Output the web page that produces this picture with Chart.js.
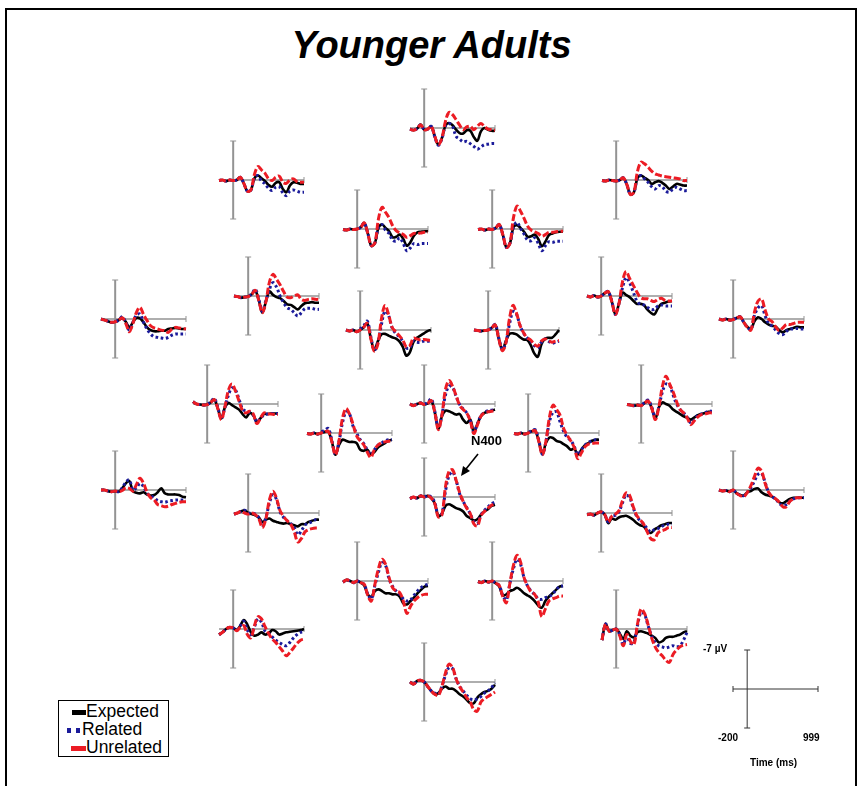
<!DOCTYPE html>
<html>
<head>
<meta charset="utf-8">
<script src="https://cdn.jsdelivr.net/npm/chart.js@4.4.1/dist/chart.umd.min.js"></script>
<style>
  body{margin:0;width:863px;height:786px;background:#fff;position:relative;overflow:hidden;font-family:"Liberation Sans",Arial,sans-serif;}
  .frame{position:absolute;left:5px;top:8px;width:852px;height:820px;border:2px solid #000;box-sizing:border-box;}
  .title{position:absolute;left:0;top:24px;width:863px;text-align:center;font:italic bold 38px "Liberation Sans",Arial,sans-serif;color:#000;}
  .panel{position:absolute;}
  .legend{position:absolute;left:58px;top:700px;width:111px;height:57px;border:1px solid #000;box-sizing:border-box;background:#fff;}
  .legend .txt{position:absolute;font-size:17.5px;line-height:18px;color:#000;}
  .legend .mk{position:absolute;height:5px;}
  .lbl{position:absolute;font:bold 10px "Liberation Sans",Arial,sans-serif;color:#000;white-space:nowrap;}
  .n400{position:absolute;font:bold 13px "Liberation Sans",Arial,sans-serif;color:#000;}
  svg.ann{position:absolute;left:0;top:0;}
</style>
</head>
<body>
<div class="frame"></div>
<div class="title">Younger Adults</div>
<div id="panels"></div>

<div class="legend">
  <span class="mk" style="left:13px;top:9px;width:14px;background:#000"></span>
  <span class="txt" style="left:27px;top:1px">Expected</span>
  <span class="mk" style="left:8px;top:27px;width:4px;background:#1b1b9a"></span>
  <span class="mk" style="left:17px;top:27px;width:4px;background:#1b1b9a"></span>
  <span class="txt" style="left:23px;top:19px">Related</span>
  <span class="mk" style="left:12px;top:45px;width:15px;background:#ec1c24"></span>
  <span class="txt" style="left:27px;top:37px">Unrelated</span>
</div>

<div class="lbl" style="left:703px;top:643px">-7 µV</div>
<div class="lbl" style="left:718px;top:732px">-200</div>
<div class="lbl" style="left:803px;top:732px">999</div>
<div class="lbl" style="left:750px;top:757px">Time (ms)</div>

<div class="n400" style="left:471px;top:433px">N400</div>
<svg class="ann" width="863" height="786">
  <line x1="478" y1="454" x2="466" y2="469" stroke="#000" stroke-width="1.6"/>
  <polygon points="461,476 463,466 470,471" fill="#000"/>
</svg>

<script>
// time points (ms)
const times = [-200,-150,-100,-50,0,50,100,150,200,250,300,350,400,450,500,550,600,650,700,750,800,850,900,950,999];

// amplitudes in µV (negative plotted up)
const expected01 = [0.2,0.4,0.1,-0.6,0.3,0.2,-0.3,1.5,3.0,1.8,-0.4,-0.9,-0.5,0.3,0.9,1.0,0.4,0.5,1.6,2.3,0.6,0,0.3,0.5,0.5];
const related01 = [0.2,0.4,0.1,-0.6,0.3,0.2,-0.3,1.6,3.1,1.9,-0.4,-0.8,-0.3,1.5,2.0,2.5,2.4,2.8,3.3,3.8,3.4,3.0,2.9,2.8,2.8];
const unrelated01 = [0.2,0.4,0.1,-0.6,0.3,0.2,-0.3,1.5,3.0,1.8,-1.2,-2.8,-2.4,-1.5,-0.5,0.3,-0.2,-0.3,0.3,-0.3,-0.8,-0.3,0.2,0.3,0.4];

const expected02 = [0.1,0,0.2,0,0.1,0,-0.5,0.6,2.0,1.8,-0.3,-0.8,-0.3,0.2,0.9,1.2,0.5,0.4,1.6,2.2,1.0,0.4,0.5,0.7,0.7];
const related02 = [0.1,0,0.2,0,0.1,0,-0.5,0.6,2.0,1.8,-0.3,-0.8,0.2,0.7,1.5,1.9,1.3,1.2,2.3,2.8,2.0,1.8,2.0,2.2,2.2];
const unrelated02 = [0.1,0,0.2,0,0.1,0,-0.5,0.6,2.0,1.8,-1.0,-2.4,-1.8,-1.2,-0.2,0.1,-0.5,-0.7,0.4,0.6,0,-0.2,0.3,0.4,0.4];

const expected03 = [0.1,0.2,0,0.1,0.2,0,-0.4,0.8,2.6,2.2,-0.3,-0.8,-0.4,0,0.7,0.4,0.2,0.5,1.0,1.6,1.2,0.7,0.8,1.0,1.0];
const related03 = [0.1,0.2,0,0.1,0.2,0,-0.4,0.8,2.6,2.2,-0.3,-0.8,-0.2,0.4,1.2,1.6,1.0,1.2,2.0,2.2,1.6,1.3,1.6,1.9,1.9];
const unrelated03 = [0.1,0.2,0,0.1,0.2,0,-0.4,0.8,2.6,2.2,-1.5,-3.2,-2.9,-2.3,-1.6,-1.1,-0.9,-0.7,-0.6,-0.5,-0.4,-0.3,-0.2,0.1,0.1];

const expected04 = [0.1,0.2,0,0.1,0,-0.3,-1.1,0.8,3.0,2.5,-0.2,-0.8,-0.2,0.4,1.5,1.4,1.0,1.8,3.0,2.4,1.2,0.6,0.5,0.4,0.4];
const related04 = [0.1,0.2,0,0.1,0,-0.3,-1.1,0.8,3.0,2.5,-0.3,-0.8,0.2,0.8,2.0,2.2,1.6,2.6,3.9,3.4,2.6,2.8,2.6,2.6,2.6];
const unrelated04 = [0.1,0.2,0,0.1,0,-0.3,-1.1,0.8,3.0,2.5,-1.8,-3.9,-3.0,-2.0,-0.6,0.3,0.7,1.0,1.5,1.2,0.8,0.8,0.7,0.6,0.6];

const expected05 = [0.1,0,0.2,0,0.1,-0.2,-0.8,1.0,3.3,2.6,-0.3,-0.7,-0.2,0.5,1.4,1.3,1.0,1.8,3.1,2.3,1.1,0.8,0.6,0.5,0.5];
const related05 = [0.1,0,0.2,0,0.1,-0.2,-0.8,1.0,3.3,2.6,-0.4,-1.2,-0.1,0.9,2.0,2.1,1.6,2.6,3.9,3.0,2.3,2.4,2.2,2.2,2.2];
const unrelated05 = [0.1,0,0.2,0,0.1,-0.2,-0.8,1.0,3.3,2.6,-2.0,-4.1,-3.2,-1.9,-0.5,0.2,0.5,0.8,1.3,1.0,0.6,0.6,0.5,0.4,0.4];

const expected06 = [0,0.2,0.4,0.6,0.5,0.2,-0.2,0.5,1.5,0.6,-0.2,-0.1,0.6,1.5,2.0,2.2,2.2,2.1,2.1,1.8,1.7,1.6,1.7,1.8,1.8];
const related06 = [0,0.2,0.4,0.6,0.5,0.2,-0.4,0.6,2.0,0.6,-0.7,-0.9,0.6,1.8,2.7,3.2,3.3,3.4,3.5,3.3,2.9,2.7,2.7,2.7,2.7];
const unrelated06 = [0,0.2,0.4,0.6,0.5,0.2,-0.2,0.8,2.3,0.8,-1.2,-2.1,-0.8,0.3,1.2,1.6,1.8,2.0,2.1,2.4,1.8,1.5,1.6,1.7,1.8];

const expected07 = [0,0.1,0.3,0.2,0.1,-0.3,-1.0,0.8,3.0,1.0,-0.8,-0.2,0.2,0.4,0.9,1.5,1.6,2.0,2.4,1.8,1.3,1.2,1.1,1.2,1.2];
const related07 = [0,0.1,0.3,0.2,0.1,-0.4,-1.2,0.6,2.8,0.8,-1.2,-2.4,-1.6,0,1.2,2.1,2.4,3.0,3.6,3.0,2.3,2.2,2.2,2.4,2.4];
const unrelated07 = [0,0.1,0.3,0.2,0.1,-0.3,-1.0,0.8,3.0,1.0,-2.5,-3.9,-3.0,-2.0,-0.8,0.2,0.3,0,-0.2,0.6,0.8,0.6,0.5,0.6,0.6];

const expected08 = [0,0.2,0,0.3,0,-0.5,-1.2,1.5,3.6,2.0,0.8,0.7,1.0,1.3,1.5,2.0,3.0,4.6,4.0,2.2,1.4,1.0,0.6,0.2,0];
const related08 = [0,0.2,0,0.3,-0.2,-0.8,-1.6,1.2,3.6,2.2,-1.0,-3.4,-2.6,-0.4,0.6,1.2,2.0,3.2,3.2,2.0,2.2,2.2,2.0,2.0,2.0];
const unrelated08 = [0,0.2,0,0.3,0,-0.5,-1.2,1.5,3.8,2.5,-2.0,-4.4,-2.8,-0.5,0.3,1.0,1.8,3.0,2.8,1.5,1.6,1.8,1.7,1.8,1.9];

const expected09 = [0,0.1,0.2,0.1,0,-0.4,-0.9,1.6,3.5,2.0,0.7,0.6,0.8,1.3,1.7,1.8,2.7,4.2,4.8,2.6,1.6,1.4,1.4,0.8,0];
const related09 = [0,0.1,0.2,0.1,0,-0.4,-1.0,1.4,3.5,2.2,-1.0,-3.3,-2.8,-0.8,0.6,1.4,2.0,2.8,3.2,2.2,1.6,2.0,2.4,2.2,2.0];
const unrelated09 = [0,0.1,0.2,0.1,0,-0.4,-0.9,1.6,3.7,2.3,-2.0,-4.4,-3.0,-0.8,0.5,1.4,1.8,2.6,2.9,2.0,1.6,1.9,2.2,2.0,1.9];

const expected10 = [0,0.2,-0.1,0.2,0,-0.5,-0.8,1.0,3.3,1.4,-0.6,-0.2,0.2,0.8,1.4,1.4,1.6,2.4,3.0,3.3,2.2,1.4,1.2,1.0,0.9];
const related10 = [0,0.2,-0.1,0.2,0,-0.5,-0.8,1.0,3.3,1.4,-1.4,-3.3,-2.4,-0.8,0.8,1.5,1.6,2.0,2.4,2.4,1.8,1.6,1.8,1.8,1.8];
const unrelated10 = [0,0.2,-0.1,0.2,0,-0.5,-0.8,1.0,3.3,1.4,-2.5,-4.4,-3.2,-2.0,-0.8,0.2,0.5,0.5,0.8,1.0,0.6,0.4,0.8,0.9,0.9];

const expected11 = [0,0.2,0,0.2,0.1,-0.2,-0.4,0.6,1.4,1.8,0.4,-0.3,0,0.6,1.0,1.2,1.4,2.0,2.4,2.0,1.8,1.6,1.4,1.5,1.5];
const related11 = [0,0.2,0,0.2,0.1,-0.2,-0.4,0.6,1.5,1.9,-0.6,-2.0,-2.4,-0.6,0.8,1.3,2.0,2.6,2.8,2.2,1.8,1.8,1.7,1.8,1.8];
const unrelated11 = [0,0.2,0,0.2,0.1,-0.2,-0.4,0.6,1.5,2.0,-1.2,-3.2,-3.6,-1.6,0,0.5,1.4,2.1,1.6,1.0,1.0,0.8,0.6,0.6,0.6];

const expected12 = [-0.4,0,0.1,0.2,0.1,-0.3,-0.8,0.8,2.6,0.6,-0.2,0.2,0.6,1.0,1.8,2.4,1.6,2.0,3.2,2.6,1.8,1.8,1.7,1.7,1.7];
const related12 = [-0.4,0,0.1,0.2,0.1,-0.4,-1.0,0.6,2.6,0.6,-1.6,-2.9,-2.5,-0.8,0.9,1.3,1.5,2.0,3.2,2.6,2.0,1.8,1.7,1.7,1.7];
const unrelated12 = [-0.4,0,0.1,0.2,0.1,-0.3,-0.8,0.8,2.8,0.5,-2.5,-3.6,-2.3,-0.5,1.2,1.6,1.3,1.8,3.5,2.6,1.6,1.8,1.8,1.9,1.9];

const expected13 = [0.1,0.2,0,0.2,0,-0.2,-0.3,1.5,3.9,2.2,1.2,1.4,1.6,1.6,1.8,3.0,3.2,3.0,3.8,3.4,2.6,2.2,1.8,1.4,1.2];
const related13 = [0.1,0.2,0,0.2,-0.2,-0.5,-0.8,1.3,3.8,1.6,-1.8,-3.8,-3.4,-1.2,0,1.2,1.9,3.0,3.9,3.0,2.2,1.8,1.4,1.2,1.2];
const unrelated13 = [0.1,0.2,0,0.2,0,-0.2,-0.3,1.5,3.9,1.5,-2.6,-4.4,-3.4,-1.5,0.5,1.4,2.1,3.4,4.4,3.0,2.2,1.8,1.6,1.5,1.5];

const expected14 = [0,0.3,0,-0.2,0.1,-0.1,-0.6,1.5,4.4,2.2,1.2,1.3,1.6,1.9,1.8,2.8,3.4,2.8,5.0,3.6,2.2,1.6,1.4,1.2,1.0];
const related14 = [0,0.3,0,-0.2,0,-0.3,-0.9,1.3,4.4,2.0,-1.6,-3.2,-3.0,-1.4,0.1,0.9,1.6,3.0,5.0,3.6,2.1,1.5,1.2,1.1,1.0];
const unrelated14 = [0,0.3,0,-0.2,0.1,-0.1,-0.6,1.5,4.6,2.0,-2.6,-4.2,-3.2,-1.5,0.2,1.0,1.6,3.0,5.3,3.8,2.2,1.6,1.4,1.3,1.2];

const expected15 = [0.1,0.2,0,0.2,0,-0.3,-0.4,1.5,3.8,1.8,0.8,0.9,1.4,1.6,2.0,2.4,3.0,2.8,3.9,3.0,2.2,1.8,1.4,1.2,1.2];
const related15 = [0.1,0.2,0,0.2,-0.1,-0.4,-0.6,1.3,3.8,1.6,-2.0,-3.7,-3.8,-2.0,-0.3,0.8,1.3,2.4,3.9,3.0,2.2,1.7,1.4,1.2,1.2];
const unrelated15 = [0.1,0.2,0,0.2,0,-0.3,-0.4,1.5,3.9,1.5,-2.8,-5.0,-4.2,-3.2,-0.8,0.4,1.4,2.6,4.6,3.6,2.5,2.0,1.9,1.8,1.8];

const expected16 = [0.1,0.2,0.3,0.2,0.3,-0.2,-0.5,0.8,2.6,0.6,-0.3,0,0.3,1.0,1.4,1.8,2.2,2.5,2.8,2.4,2.0,1.8,1.6,1.4,1.4];
const related16 = [0.1,0.2,0.3,0.2,0.2,-0.3,-0.7,0.6,2.6,0.5,-2.2,-3.6,-3.4,-1.6,0,1.0,1.6,2.4,3.4,2.8,2.0,1.8,1.6,1.3,1.3];
const unrelated16 = [0.1,0.2,0.3,0.2,0.3,-0.2,-0.5,0.8,2.8,0.5,-3.2,-5.0,-3.6,-2.2,-0.4,1.0,1.6,2.5,3.7,3.0,2.3,1.9,1.8,1.6,1.6];

const expected17 = [0,0,0.2,0.3,0.2,0.3,-0.3,-1.2,-1.6,0.2,0.5,0.6,0.4,0.8,1.0,0.9,0.4,-0.3,0.6,0.8,0.8,0.8,0.9,1.2,1.3];
const related17 = [0,0,0.2,0.3,0.2,0.3,-0.4,-1.4,-1.8,0,-0.4,-1.2,-0.6,0.6,1.0,1.4,1.9,2.1,2.2,2.0,1.9,1.8,1.8,1.8,1.8];
const unrelated17 = [0,0,0.2,0.3,0.2,0.3,0.1,-0.4,-0.3,0.2,-1.0,-2.1,-1.2,0.4,1.4,1.8,2.6,2.8,3.0,2.9,2.6,2.4,2.2,2.1,2.1];

const expected18 = [0.3,0,0.2,-0.2,0,-0.2,0.2,1.2,3.4,3.0,1.6,1.3,1.6,2.0,2.2,2.6,3.4,3.8,4.2,4.0,3.2,2.6,2.2,1.6,1.4];
const related18 = [0.3,0,0.2,-0.2,0,-0.3,0,1.0,3.4,3.0,-1.0,-3.8,-4.5,-3.0,-0.6,0.8,1.9,3.0,4.4,4.8,3.2,2.4,1.8,1.2,0.9];
const unrelated18 = [0.3,0,0.2,-0.2,0,-0.2,0.2,1.2,3.6,3.2,-1.8,-4.6,-4.9,-3.0,-0.8,0.8,2.0,3.0,4.8,5.2,3.4,2.6,2.0,1.5,1.2];

const expected19 = [0.2,0,-0.3,-0.5,0,0.2,0.4,0.8,1.6,1.2,1.0,1.4,1.6,1.8,1.9,1.8,2.0,2.2,2.4,2.0,2.0,1.6,1.4,1.2,1.2];
const related19 = [0.2,0,-0.3,-0.5,0,0,0.2,0.8,2.2,0.8,-1.8,-3.3,-2.4,-0.2,0.8,1.4,1.9,2.6,3.9,3.2,2.2,1.8,1.6,1.2,1.2];
const unrelated19 = [0.2,0,-0.3,0,0.2,0,0.3,1.0,2.6,1.0,-2.4,-3.9,-2.6,-0.4,0.6,1.4,2.0,3.4,5.2,4.6,3.4,3.0,2.8,2.7,2.7];

const expected20 = [0.3,0.2,0.4,0,-0.2,0.3,1.8,1.0,1.2,0.8,0.6,0.5,0.8,1.2,1.8,2.2,2.4,3.2,3.6,3.0,2.6,2.2,2.0,1.8,1.8];
const related20 = [0.3,0.2,0.4,0,-0.2,0.3,1.6,0.6,0.4,-0.2,-1.8,-3.2,-2.8,-1.0,0.6,1.4,2.0,2.8,3.4,3.0,2.8,2.4,2.2,2.0,2.0];
const unrelated20 = [0.3,0.2,0.4,0,-0.2,0.3,1.6,0.6,0.2,-0.4,-2.2,-3.6,-3.2,-1.2,0.4,1.2,2.0,3.4,4.6,4.8,3.6,3.2,3.0,2.6,2.6];

const expected21 = [0,0.2,0.1,0.3,0,0.6,0.9,1.0,0.4,0.2,-0.2,-0.3,0.4,0.8,1.0,1.2,1.6,2.2,2.4,2.0,1.6,1.4,1.4,1.4,1.4];
const related21 = [0,0.2,0.1,0.3,0,0.6,0.9,1.0,0.4,-0.4,-1.6,-2.8,-3.0,-1.4,0.4,1.2,1.6,2.4,2.8,2.6,2.0,1.6,1.4,1.4,1.4];
const unrelated21 = [0,0.2,0.1,0.3,0,0.6,1.0,1.2,0.4,-0.8,-2.4,-3.9,-3.4,-1.2,0.4,1.2,1.6,2.2,3.0,3.0,2.0,1.6,1.4,1.4,1.4];

const expected22 = [0.2,-0.2,0,0.3,0,0.3,0.8,2.4,2.8,1.8,1.5,1.8,2.2,2.2,2.4,2.4,2.8,4.0,4.2,3.6,3.0,2.2,1.6,1.0,0.9];
const related22 = [0.2,-0.2,0,0.3,0,0.3,0.6,2.4,3.2,0.8,-1.6,-3.3,-2.8,-0.4,1.0,1.8,2.4,3.2,3.6,3.4,2.6,1.8,1.2,0.8,0.6];
const unrelated22 = [0.2,-0.2,0,0.3,0,0.3,0.6,2.6,3.6,0.6,-2.2,-3.9,-3.0,-0.6,1.2,1.8,2.1,3.6,5.8,4.6,3.6,3.0,2.6,2.4,2.4];

const expected23 = [0.1,0.3,0,0.2,0,0.4,1.0,2.6,2.4,1.8,1.6,1.2,1.6,2.2,2.6,3.0,3.6,4.4,4.8,3.6,2.8,2.2,1.6,1.0,0.9];
const related23 = [0.1,0.3,0,0.2,0,0.4,0.8,2.6,3.4,0.4,-2.2,-3.9,-3.0,-0.6,0.9,1.8,2.4,3.2,3.3,3.0,2.8,2.4,1.6,1.0,0.9];
const unrelated23 = [0.1,0.3,0,0.2,0,0.4,0.8,2.8,3.9,0.4,-2.8,-4.6,-3.4,-0.6,0.9,2.0,2.4,3.8,6.4,5.0,3.6,3.2,3.0,2.7,2.7];

const expected24 = [1.0,0.6,0,-0.3,-0.2,0.2,-0.6,-1.6,-0.8,0.6,1.2,1.0,0.6,1.0,0.8,0.2,0.4,1.0,0.8,0.6,0.5,0.4,0.3,0.2,0];
const related24 = [1.0,0.6,0,-0.3,-0.2,0.2,-0.6,-1.4,0.2,1.0,-0.4,-1.8,-1.2,0.4,0.8,1.4,2.0,2.4,2.8,3.0,2.4,1.6,1.0,0.6,0.5];
const unrelated24 = [1.0,0.6,0,-0.3,-0.2,0.3,-0.3,-0.6,1.0,1.6,-0.6,-2.2,-1.8,-0.4,0.8,1.8,2.4,3.2,4.0,4.8,4.2,3.4,2.6,2.0,1.8];

const expected25 = [2.0,-0.9,0.4,0.2,0,0.8,1.8,0.4,1.2,1.5,0.6,0.4,0.6,0.8,1.2,1.6,2.4,2.2,1.6,1.4,1.4,1.2,1.0,0.6,0.4];
const related25 = [2.0,-0.9,0.4,0.2,0,1.0,2.8,1.2,2.6,2.4,-0.6,-3.0,-2.6,-0.6,1.2,2.4,3.0,3.2,3.4,3.2,3.0,3.2,3.0,2.0,0.6];
const unrelated25 = [2.0,-0.9,0.4,0.2,0,1.2,3.0,1.0,2.2,2.8,-0.8,-3.6,-2.8,-0.8,1.6,3.2,4.2,4.8,5.6,6.0,4.6,3.8,3.2,2.9,2.8];

const expected26 = [0,0.4,-0.2,-0.3,0,0.8,1.6,2.2,2.0,1.2,0.8,1.2,1.2,1.6,2.2,2.6,3.2,3.8,3.8,2.8,2.2,1.8,1.6,1.2,0.5];
const related26 = [0,0.4,-0.2,-0.3,0,0.8,1.6,2.0,2.2,0.8,-1.2,-2.6,-2.4,-0.6,0.8,1.6,2.4,3.0,3.2,3.0,2.6,2.0,1.6,1.0,0.2];
const unrelated26 = [0,0.4,-0.2,-0.3,0,0.8,1.6,2.2,2.4,0.8,-1.6,-3.2,-2.6,-0.6,0.8,1.8,2.8,3.6,5.0,5.2,3.6,3.0,2.6,2.2,1.8];

// layout: pixel of the 0 ms line and of the 0 µV line for each electrode
const sites = [
  [424,127.5, expected01, related01, unrelated01],
  [233,179.5, expected02, related02, unrelated02],
  [616,179.5, expected03, related03, unrelated03],
  [357,228.5, expected04, related04, unrelated04],
  [492,228.5, expected05, related05, unrelated05],
  [115,318.5, expected06, related06, unrelated06],
  [248,295.5, expected07, related07, unrelated07],
  [360,329.5, expected08, related08, unrelated08],
  [488,329.5, expected09, related09, unrelated09],
  [601,295.5, expected10, related10, unrelated10],
  [733,318.5, expected11, related11, unrelated11],
  [207,404, expected12, related12, unrelated12],
  [321,433, expected13, related13, unrelated13],
  [424,404, expected14, related14, unrelated14],
  [528,433, expected15, related15, unrelated15],
  [641,404, expected16, related16, unrelated16],
  [115,490, expected17, related17, unrelated17],
  [424,496.5, expected18, related18, unrelated18],
  [248,513, expected19, related19, unrelated19],
  [601,513, expected20, related20, unrelated20],
  [733,490, expected21, related21, unrelated21],
  [357,580.5, expected22, related22, unrelated22],
  [492,580.5, expected23, related23, unrelated23],
  [233,629, expected24, related24, unrelated24],
  [616,629, expected25, related25, unrelated25],
  [424,682, expected26, related26, unrelated26]
];

const PAD = 6, W = 85, H = 78;

// draws the little 0 ms / 0 µV axes under each set of waves
const erpAxes = {
  id: 'erpAxes',
  beforeDatasetsDraw(chart, args, o){
    const {ctx, scales:{x, y}} = chart;
    const x0 = x.getPixelForValue(0), xl = x.getPixelForValue(-200), xr = x.getPixelForValue(999);
    const yt = y.getPixelForValue(-7), yb = y.getPixelForValue(7), y0 = y.getPixelForValue(0);
    ctx.save();
    ctx.strokeStyle = o.color;
    ctx.lineWidth = o.vWidth;
    ctx.beginPath(); ctx.moveTo(x0, yt); ctx.lineTo(x0, yb); ctx.stroke();
    ctx.lineWidth = 1;
    ctx.beginPath();
    ctx.moveTo(x0-3, yt); ctx.lineTo(x0+3, yt);
    ctx.moveTo(x0-3, yb); ctx.lineTo(x0+3, yb);
    ctx.moveTo(xr, y0-3); ctx.lineTo(xr, y0+3);
    if(o.leftTick){ ctx.moveTo(xl, y0-3); ctx.lineTo(xl, y0+3); }
    ctx.stroke();
    ctx.lineWidth = o.hWidth;
    ctx.beginPath(); ctx.moveTo(xl, y0); ctx.lineTo(xr, y0); ctx.stroke();
    ctx.restore();
  }
};

function pts(arr){ return arr.map((v,i)=>({x: times[i], y: v})); }

function makePanel(ax, cy, datasets, axOpts){
  const cv = document.createElement('canvas');
  cv.width = W + 2*PAD; cv.height = H + 2*PAD;
  cv.className = 'panel';
  cv.style.left = (ax - W*200/1199 - PAD) + 'px';
  cv.style.top = (cy - H/2 - PAD) + 'px';
  cv.style.width = cv.width + 'px'; cv.style.height = cv.height + 'px';
  document.getElementById('panels').appendChild(cv);
  return new Chart(cv, {
    type: 'line',
    data: { datasets },
    options: {
      responsive: false, animation: false, devicePixelRatio: 1,
      layout: { padding: PAD },
      elements: { point: { radius: 0 }, line: { tension: 0.35, borderCapStyle: 'butt' } },
      scales: {
        x: { type: 'linear', min: -200, max: 999, display: false },
        y: { min: -7, max: 7, reverse: true, display: false }
      },
      plugins: { legend: { display: false }, tooltip: { enabled: false }, erpAxes: axOpts }
    },
    plugins: [erpAxes]
  });
}

sites.forEach(([ax, cy, e, r, u]) => {
  makePanel(ax, cy, [
    { label: 'Expected', data: pts(e), borderColor: '#000', borderWidth: 2.6, order: 3, clip: false },
    { label: 'Related', data: pts(r), borderColor: '#1b1b9a', borderWidth: 3, borderDash: [2.6, 2.6], order: 2, clip: false },
    { label: 'Unrelated', data: pts(u), borderColor: '#ec1c24', borderWidth: 3, borderDash: [7, 2.5], order: 1, clip: false }
  ], { color: '#939393', vWidth: 2, hWidth: 1.4, leftTick: false });
});

// calibration cross
makePanel(747, 689, [], { color: '#333', vWidth: 1, hWidth: 1, leftTick: true });
</script>
</body>
</html>
